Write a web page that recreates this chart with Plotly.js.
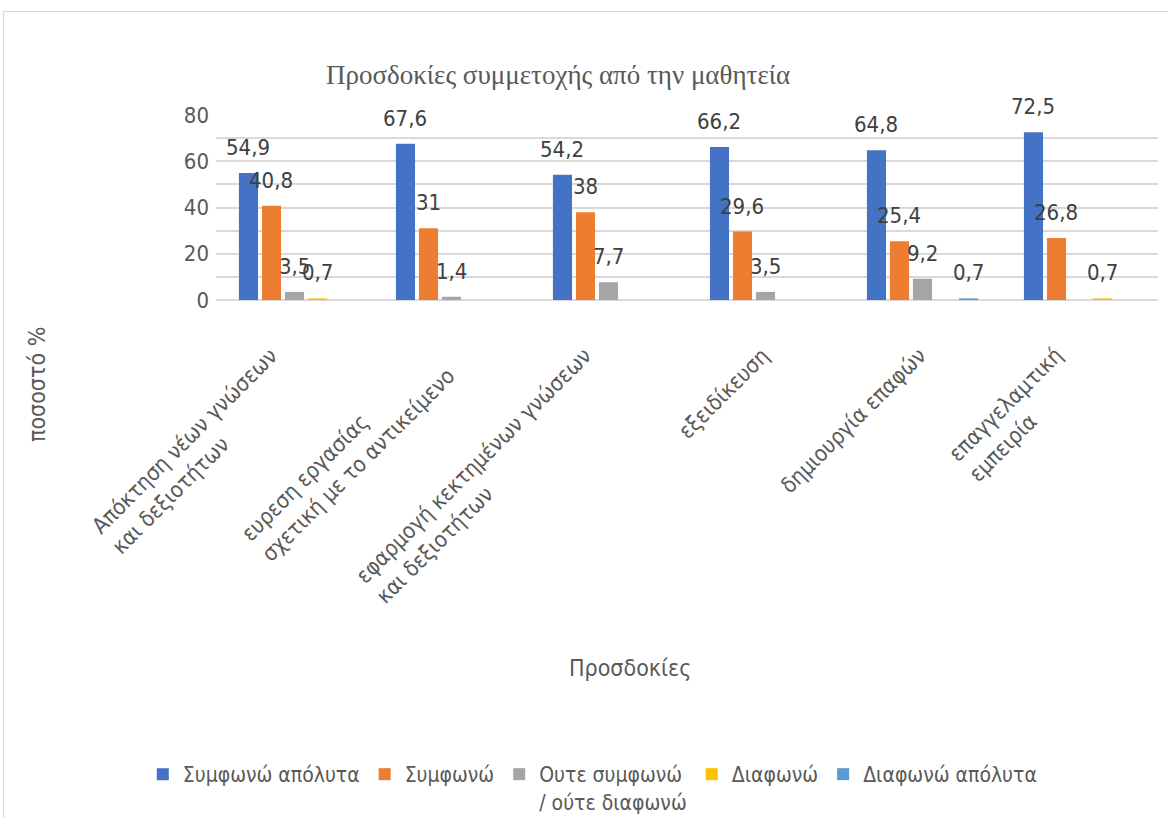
<!DOCTYPE html>
<html>
<head>
<meta charset="utf-8">
<script src="https://cdn.plot.ly/plotly-3.0.1.min.js"></script>
<style>
  html, body { margin: 0; padding: 0; background: #fff; overflow: hidden; }
  #frame { position: absolute; left: 3px; top: 11px; width: 1200px; height: 900px; border: 1px solid #d9d9d9; }
  #chart { position: absolute; left: 4px; top: 12px; width: 1164px; height: 806px; }
</style>
</head>
<body>
<div id="frame"></div>
<div id="chart"></div>
<script>
const categories = [
  "Απόκτηση νέων γνώσεων<br>και δεξιοτήτων",
  "ευρεση εργασίας<br>σχετική με το αντικείμενο",
  "εφαρμογή κεκτημένων γνώσεων<br>και δεξιοτήτων",
  "εξειδίκευση",
  "δημιουργία επαφών",
  "επαγγελαμτική<br>εμπειρία"
];
const seriesNames = ["Συμφωνώ απόλυτα", "Συμφωνώ", "Ουτε συμφωνώ<br>/ ούτε διαφωνώ", "Διαφωνώ", "Διαφωνώ απόλυτα"];
const agreeFully    = [54.9, 67.6, 54.2, 66.2, 64.8, 72.5];
const agree         = [40.8, 31, 38, 29.6, 25.4, 26.8];
const neutral       = [3.5, 1.4, 7.7, 3.5, 9.2, null];
const disagree      = [0.7, null, null, null, null, 0.7];
const disagreeFully = [null, null, null, null, 0.7, null];
const yTickVals = [0, 20, 40, 60, 80];

const seriesValues = [agreeFully, agree, neutral, disagree, disagreeFully];
const colors = ["#4472C4", "#ED7D31", "#A5A5A5", "#FFC000", "#5B9BD5"];
const FONT = "'Liberation Sans Narrow', 'DejaVu Sans Condensed', 'Open Sans', 'Roboto', sans-serif";

const W = 1164, H = 806;
const M = { l: 212, r: 10, t: 103, b: 30, autoexpand: false };
const BARGAP = 0.267;

const traces = seriesValues.map((vals, i) => ({
  type: "bar",
  name: seriesNames[i],
  x: categories,
  y: vals,
  marker: { color: colors[i] },
  hoverinfo: "none"
}));

// data labels placed above each bar (Excel "outside end" style)
const catPx = (W - M.l - M.r) / categories.length;
const slotPx = catPx * (1 - BARGAP) / seriesValues.length;
const labelAnns = [];
seriesValues.forEach((vals, i) => {
  vals.forEach((v, j) => {
    if (v === null) return;
    labelAnns.push({
      x: categories[j], y: v, xref: "x", yref: "y",
      text: String(v).replace(".", ","),
      showarrow: false,
      xanchor: "center", yanchor: "bottom",
      xshift: (i - (seriesValues.length - 1) / 2) * slotPx,
      yshift: 11,
      font: { family: FONT, size: 22, color: "#404040" }
    });
  });
});

// rotated, left-aligned category labels (Excel style)
const catLabelAnns = categories.map(c => ({
  x: c, y: 0, xref: "x", yref: "y",
  text: c,
  textangle: -45,
  align: "left",
  xanchor: "right", yanchor: "top",
  xshift: 11, yshift: -40,
  showarrow: false,
  font: { family: FONT, size: 22, color: "#595959" }
}));

const layout = {
  width: W,
  height: H,
  margin: M,
  paper_bgcolor: "#ffffff",
  plot_bgcolor: "#ffffff",
  barmode: "group",
  bargap: BARGAP,
  bargroupgap: 0.17,
  font: { family: FONT, color: "#595959" },
  title: {
    text: "Προσδοκίες συμμετοχής από την μαθητεία",
    font: { family: "'Liberation Serif', 'DejaVu Serif', serif", size: 27, color: "#595959" },
    xref: "container", yref: "container",
    x: 0.476, y: 0.922, xanchor: "center", yanchor: "middle"
  },
  xaxis: {
    type: "category",
    range: [-0.5, categories.length - 0.5],
    autorange: false,
    automargin: false,
    showticklabels: false,
    showline: false,
    showgrid: false,
    ticks: "",
    zeroline: false
  },
  yaxis: {
    automargin: false,
    domain: [0.7251, 1],
    range: [0, 80],
    autorange: false,
    tickvals: yTickVals,
    tickfont: { family: FONT, size: 22, color: "#595959" },
    showgrid: true,
    gridcolor: "#d9d9d9",
    gridwidth: 2,
    minor: { dtick: 10, showgrid: true, gridcolor: "#d9d9d9", gridwidth: 2 },
    zeroline: true,
    zerolinecolor: "#d9d9d9",
    zerolinewidth: 2,
    showline: false,
    ticks: "",
    ticklabelstandoff: 6
  },
  showlegend: true,
  legend: {
    orientation: "h",
    x: 0.40, xanchor: "center",
    y: 0.0505, yanchor: "top",
    valign: "top",
    font: { family: FONT, size: 21, color: "#595959" },
    itemwidth: 30,
    traceorder: "normal",
    bgcolor: "rgba(0,0,0,0)"
  },
  annotations: labelAnns.concat(catLabelAnns, [
    {
      text: "ποσοστό %",
      xref: "paper", yref: "paper",
      x: -0.19, y: 0.5988,
      textangle: -90,
      showarrow: false,
      font: { family: FONT, size: 23, color: "#595959" },
      xanchor: "center", yanchor: "middle"
    },
    {
      text: "Προσδοκίες",
      xref: "paper", yref: "paper",
      x: 0.4395, y: 0.1783,
      showarrow: false,
      font: { family: FONT, size: 23, color: "#595959" },
      xanchor: "center", yanchor: "middle"
    }
  ])
};

Plotly.newPlot("chart", traces, layout, { displayModeBar: false, staticPlot: true });
</script>
</body>
</html>
